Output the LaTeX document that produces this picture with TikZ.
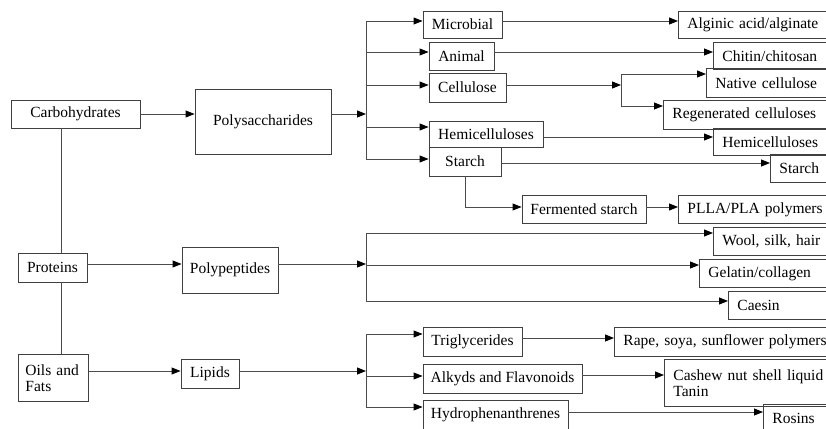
\documentclass[tikz,border=0pt]{standalone}
\usepackage{fontspec}
\setmainfont{Liberation Serif}
\usetikzlibrary{arrows.meta}
\tikzset{
  bx/.style={draw=black!75, line width=0.9pt, inner sep=0pt, font=\fontsize{15.5}{16}\selectfont},
  lbx/.style={bx, anchor=north west, align=left, inner xsep=9pt},
  ln/.style={draw=black!70, line width=0.9pt},
  ar/.style={ln, -{Triangle[length=9pt,width=7pt,color=black,fill=black]}},
}
% centered box: name, left, top, right, bottom, text
\newcommand\mkbox[6]{\node[bx, minimum width={#4-#2}, minimum height={#5-#3}] (#1) at ({(#2+#4)/2},{(#3+#5)/2}) {#6};}
% left-aligned box running past the right edge: name, left, top, bottom, text
\newcommand\mkrbox[5]{\node[lbx, text width={840-#2-18}, minimum height={#4-#3}] (#1) at (#2,#3) {\mbox{#5}};}
\begin{document}
\begin{tikzpicture}[x=1pt,y=-1pt]
\useasboundingbox (0,0) rectangle (826,428);
% left column
\mkbox{carb}{11}{100}{140}{128}{Carbohydrates}
\mkbox{poly}{195}{89}{331}{154}{Polysaccharides}
\mkbox{prot}{18}{253}{87}{282}{Proteins}
\mkbox{pept}{182}{247}{278}{293}{Polypeptides}
\node[bx, anchor=north west, align=left, text width=56pt, inner xsep=7pt, minimum height=47pt] (oils) at (18,354) {Oils and\\Fats};
\mkbox{lip}{181}{359}{239}{388}{Lipids}
% polysaccharide branches
\mkbox{micro}{423}{11}{502}{38}{Microbial}
\mkbox{anim}{429}{42}{494}{70}{Animal}
\mkbox{cell}{429}{73}{506}{102}{Cellulose}
\mkbox{hemi}{429}{121}{543}{147}{Hemicelluloses}
\mkbox{starch}{429}{147}{501}{176}{Starch}
\mkbox{ferm}{522}{195}{646}{223}{Fermented starch}
\mkrbox{algi}{678}{11}{38}{Alginic acid/alginate}
\mkrbox{chit}{713}{42}{69}{Chitin/chitosan}
\mkrbox{nat}{706}{68}{97}{Native cellulose}
\mkrbox{regen}{663}{100}{129}{Regenerated celluloses}
\mkrbox{hemib}{713}{128}{155}{Hemicelluloses}
\mkrbox{starchb}{770}{154}{182}{Starch}
\mkrbox{plla}{678}{195}{223}{PLLA/PLA polymers}
% protein branches
\mkrbox{wool}{713}{227}{255}{Wool, silk, hair}
\mkrbox{gel}{699}{259}{287}{Gelatin/collagen}
\mkrbox{caes}{728}{291}{319}{Caesin}
% lipid branches
\mkbox{trig}{423}{327}{522}{356}{Triglycerides}
\mkbox{alk}{423}{364}{582}{393}{Alkyds and Flavonoids}
\mkbox{hydro}{423}{400}{568}{430}{Hydrophenanthrenes}
\mkrbox{rape}{614}{327}{356}{Rape, soya, sunflower polymers}
\node[lbx, text width={840-664-18}, minimum height=47pt, font=\fontsize{15.5}{15.5}\selectfont] (cash) at (664,359) {\mbox{Cashew nut shell liquid}\\Tanin};
\mkrbox{rosin}{763}{404}{431}{Rosins}
% bus coordinates
\coordinate (b1) at (366,114);
\coordinate (b1t) at (366,21);
\coordinate (b1b) at (366,159);
\coordinate (c2) at (621,85);
\coordinate (c2t) at (621,74);
\coordinate (c2b) at (621,106);
\coordinate (b2) at (366,264);
\coordinate (b2t) at (366,233);
\coordinate (b2b) at (366,301);
\coordinate (b3) at (366,371);
\coordinate (b3t) at (366,334);
\coordinate (b3b) at (366,407);
\coordinate (sd) at (465,207);
% left column links
\draw[ln] (carb.south -| 61,0) -- (prot.north -| 61,0);
\draw[ln] (prot.south -| 61,0) -- (oils.north -| 61,0);
\draw[ar] (carb.east |- 0,114) -- (poly.west |- 0,114);
\draw[ar] (prot.east |- 0,264) -- (pept.west |- 0,264);
\draw[ar] (oils.east |- 0,371) -- (lip.west |- 0,371);
% polysaccharides
\draw[ar] (poly.east |- b1) -- (b1);
\draw[ln] (b1t) -- (b1b);
\draw[ar] (b1t) -- (b1t -| micro.west);
\draw[ar] (b1 |- 0,52) -- (anim.west |- 0,52);
\draw[ar] (b1 |- 0,85) -- (cell.west |- 0,85);
\draw[ar] (b1 |- 0,127) -- (hemi.west |- 0,127);
\draw[ar] (b1b) -- (b1b -| starch.west);
\draw[ar] (micro.east |- 0,21) -- (algi.west |- 0,21);
\draw[ar] (anim.east |- 0,52) -- (chit.west |- 0,52);
\draw[ar] (cell.east |- c2) -- (c2);
\draw[ln] (c2t) -- (c2b);
\draw[ar] (c2t) -- (c2t -| nat.west);
\draw[ar] (c2b) -- (c2b -| regen.west);
\draw[ar] (hemi.east |- 0,137) -- (hemib.west |- 0,137);
\draw[ar] (starch.east |- 0,163) -- (starchb.west |- 0,163);
\draw[ar] (starch.south -| sd) -- (sd) -- (sd -| ferm.west);
\draw[ar] (ferm.east |- sd) -- (plla.west |- sd);
% polypeptides
\draw[ar] (pept.east |- b2) -- (b2);
\draw[ln] (b2t) -- (b2b);
\draw[ar] (b2t) -- (b2t -| wool.west);
\draw[ar] (b2 |- 0,265) -- (gel.west |- 0,265);
\draw[ar] (b2b) -- (b2b -| caes.west);
% lipids
\draw[ar] (lip.east |- b3) -- (b3);
\draw[ln] (b3t) -- (b3b);
\draw[ar] (b3t) -- (b3t -| trig.west);
\draw[ar] (b3 |- 0,376) -- (alk.west |- 0,376);
\draw[ar] (b3b) -- (b3b -| hydro.west);
\draw[ar] (trig.east |- 0,338) -- (rape.west |- 0,338);
\draw[ar] (alk.east |- 0,375) -- (cash.west |- 0,375);
\draw[ar] (hydro.east |- 0,412) -- (rosin.west |- 0,412);
\end{tikzpicture}
\end{document}
